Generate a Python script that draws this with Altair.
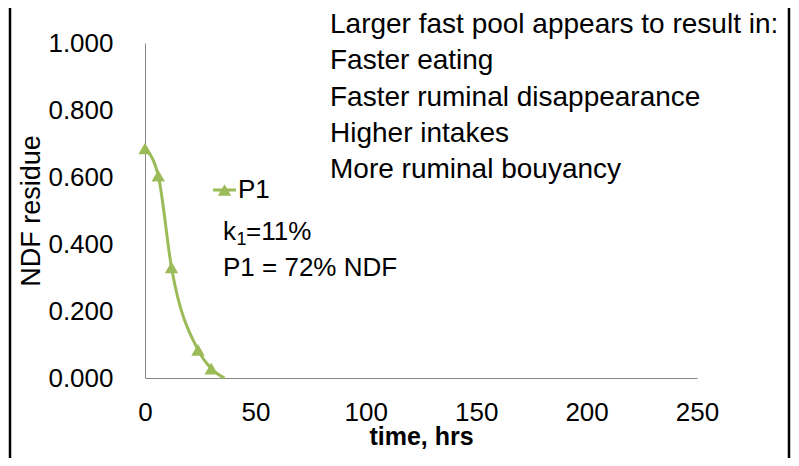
import altair as alt
import pandas as pd

# ---- data ----
time_hrs = [0, 6, 12, 24, 30, 36]
ndf_residue = [0.685, 0.604, 0.330, 0.084, 0.028, 0.0]
x_ticks = [0, 50, 100, 150, 200, 250]
y_ticks = [0.0, 0.2, 0.4, 0.6, 0.8, 1.0]
note_lines = [
    "Larger fast pool appears to result in:",
    "Faster eating",
    "Faster ruminal disappearance",
    "Higher intakes",
    "More ruminal bouyancy",
]
series_name = "P1"
rate_main = "k"
rate_sub = "1"
rate_rest = "=11%"
pool_label = "P1 = 72% NDF"

GREEN = "#9BBB59"
FONT = "Liberation Sans"

df = pd.DataFrame({"time": time_hrs, "ndf": ndf_residue})
one = pd.DataFrame({"d": [0]})

x_enc = alt.X(
    "time:Q",
    scale=alt.Scale(domain=[0, 250], nice=False),
    axis=alt.Axis(values=x_ticks, format="d", title="time, hrs", labelFlush=False,
                  labelPadding=21, titlePadding=-1, titleFontWeight="bold",
                  titleFontSize=25),
)
y_enc = alt.Y(
    "ndf:Q",
    scale=alt.Scale(domain=[0, 1], nice=False),
    axis=alt.Axis(values=y_ticks, format=".3f", title="NDF residue", labelFlush=False,
                  labelPadding=32, titlePadding=2, titleFontWeight="normal"),
)

line = alt.Chart(df).mark_line(
    color=GREEN, strokeWidth=3, interpolate="monotone"
).encode(x=x_enc, y=y_enc)

points = alt.Chart(df).transform_filter("datum.ndf > 0").mark_point(
    shape="triangle-up", filled=True, size=180, color=GREEN, opacity=1
).encode(x=x_enc, y=y_enc)

notes = alt.Chart(one).mark_text(
    text=note_lines, lineHeight=36.3, align="left", baseline="alphabetic",
    fontSize=28, font=FONT, color="black"
).encode(x=alt.value(185), y=alt.value(-10))

leg_line = alt.Chart(one).mark_rule(color=GREEN, strokeWidth=3).encode(
    x=alt.value(68), x2=alt.value(91), y=alt.value(147)
)
leg_pt = alt.Chart(one).mark_point(
    shape="triangle-up", filled=True, size=180, color=GREEN, opacity=1
).encode(x=alt.value(79.5), y=alt.value(147))
leg_txt = alt.Chart(one).mark_text(
    text=series_name, align="left", baseline="middle", fontSize=26, font=FONT, color="black"
).encode(x=alt.value(93), y=alt.value(147))

k_txt = alt.Chart(one).mark_text(
    text=rate_main, align="left", baseline="middle", fontSize=26, font=FONT, color="black"
).encode(x=alt.value(78), y=alt.value(189))
k_sub = alt.Chart(one).mark_text(
    text=rate_sub, align="left", baseline="middle", fontSize=18, font=FONT, color="black"
).encode(x=alt.value(91.5), y=alt.value(197))
k_rest = alt.Chart(one).mark_text(
    text=rate_rest, align="left", baseline="middle", fontSize=26, font=FONT, color="black"
).encode(x=alt.value(101), y=alt.value(189))
p_txt = alt.Chart(one).mark_text(
    text=pool_label, align="left", baseline="middle", fontSize=26, font=FONT, color="black"
).encode(x=alt.value(78), y=alt.value(225))

border_l = alt.Chart(one).mark_rule(color="black", strokeWidth=2.5).encode(
    x=alt.value(-135), y=alt.value(-35), y2=alt.value(415)
)
border_r = alt.Chart(one).mark_rule(color="black", strokeWidth=2.5).encode(
    x=alt.value(644), y=alt.value(-35), y2=alt.value(415)
)

chart = alt.layer(
    line, points, notes, leg_line, leg_pt, leg_txt, k_txt, k_sub, k_rest, p_txt,
    border_l, border_r
).properties(
    width=552,
    height=335,
    autosize=alt.AutoSizeParams(type="none"),
    padding={"left": 137, "top": 35, "right": 94, "bottom": 80},
    background="white",
).configure_view(
    stroke=None
).configure_axis(
    grid=False,
    ticks=False,
    domainColor="#868686",
    domainWidth=1,
    labelFont=FONT,
    labelFontSize=26,
    labelColor="black",
    titleFont=FONT,
    titleFontSize=27,
    titleColor="black",
)

chart.save("out.html", embed_options={"renderer": "svg", "actions": False})
